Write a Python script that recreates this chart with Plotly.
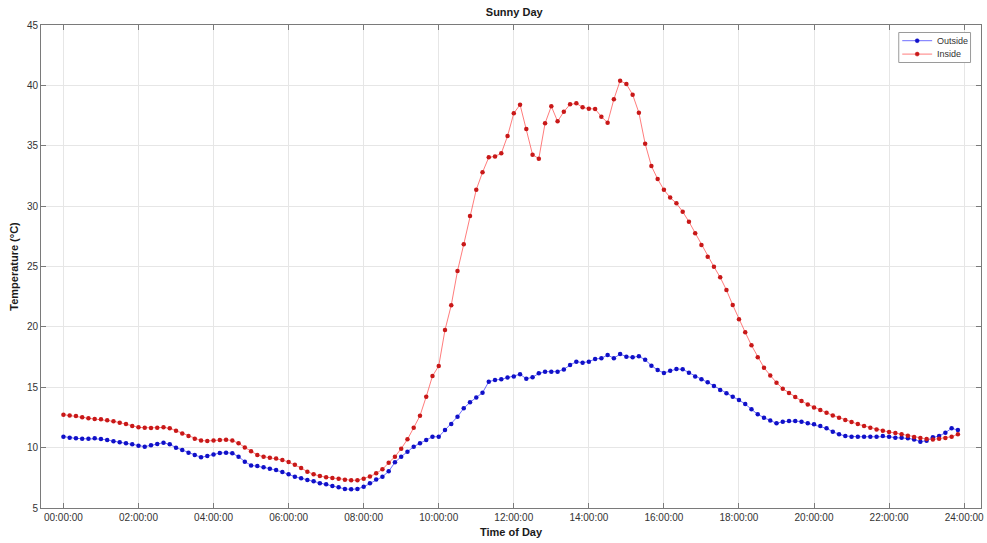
import numpy as np
import plotly.graph_objects as go

# Temperatures logged every 10 minutes from 00:00 to 23:50 (144 samples)
outside_temp = [
    10.91, 10.82, 10.77, 10.74, 10.74, 10.77,
    10.71, 10.63, 10.52, 10.44, 10.36, 10.27,
    10.16, 10.08, 10.19, 10.30, 10.41, 10.27,
    10.00, 9.80, 9.58, 9.39, 9.20, 9.31,
    9.44, 9.55, 9.58, 9.53, 9.25, 8.84,
    8.53, 8.48, 8.37, 8.26, 8.15, 7.98,
    7.79, 7.59, 7.46, 7.32, 7.21, 7.04,
    6.96, 6.82, 6.71, 6.58, 6.55, 6.58,
    6.75, 7.04, 7.37, 7.59, 8.04, 8.78,
    9.25, 9.66, 10.08, 10.36, 10.63, 10.90,
    10.90, 11.46, 11.96, 12.56, 13.26, 13.75,
    14.15, 14.55, 15.46, 15.60, 15.66, 15.80,
    15.88, 16.07, 15.71, 15.82, 16.15, 16.29,
    16.29, 16.29, 16.48, 16.84, 17.12, 17.03,
    17.12, 17.34, 17.40, 17.67, 17.40, 17.75,
    17.53, 17.48, 17.56, 17.28, 16.79, 16.43,
    16.18, 16.36, 16.51, 16.49, 16.21, 15.88,
    15.66, 15.41, 15.10, 14.77, 14.50, 14.22,
    13.94, 13.61, 13.17, 12.76, 12.48, 12.25,
    12.01, 12.15, 12.20, 12.20, 12.15, 12.01,
    11.93, 11.79, 11.60, 11.32, 11.10, 10.96,
    10.90, 10.90, 10.90, 10.90, 10.90, 10.96,
    10.90, 10.82, 10.82, 10.77, 10.68, 10.49,
    10.57, 10.85, 10.96, 11.24, 11.60, 11.46,
]

inside_temp = [
    12.73, 12.67, 12.62, 12.51, 12.43, 12.37,
    12.34, 12.26, 12.18, 12.07, 11.96, 11.79,
    11.68, 11.65, 11.62, 11.65, 11.68, 11.60,
    11.40, 11.18, 10.96, 10.74, 10.58, 10.55,
    10.58, 10.63, 10.66, 10.58, 10.36, 10.02,
    9.69, 9.39, 9.25, 9.17, 9.09, 8.97,
    8.81, 8.59, 8.31, 8.01, 7.79, 7.65,
    7.54, 7.48, 7.43, 7.34, 7.30, 7.30,
    7.42, 7.60, 7.87, 8.20, 8.75, 9.25,
    9.91, 10.69, 11.65, 12.64, 14.22, 15.93,
    16.76, 19.74, 21.79, 24.63, 26.84, 29.18,
    31.36, 32.80, 34.04, 34.12, 34.37, 35.80,
    37.69, 38.40, 36.39, 34.26, 33.93, 36.86,
    38.27, 37.02, 37.82, 38.43, 38.51, 38.18,
    38.07, 38.04, 37.41, 36.91, 38.85, 40.39,
    40.11, 39.23, 37.74, 35.17, 33.32, 32.24,
    31.35, 30.71, 30.23, 29.54, 28.71, 27.75,
    26.78, 25.81, 24.98, 24.10, 23.05, 21.81,
    20.63, 19.55, 18.47, 17.48, 16.62, 15.98,
    15.38, 14.88, 14.52, 14.19, 13.86, 13.58,
    13.33, 13.11, 12.89, 12.67, 12.48, 12.28,
    12.12, 11.95, 11.79, 11.65, 11.51, 11.40,
    11.29, 11.21, 11.10, 10.99, 10.88, 10.79,
    10.71, 10.68, 10.74, 10.79, 10.90, 11.10,
]

series_names = ["Outside", "Inside"]
line_colors = ["#4a4aff", "#ff5a5a"]
marker_colors = ["#1010c8", "#c81818"]

# Time of day in hours for each 10-minute sample
sample_minutes = np.arange(len(outside_temp)) * 10
time_hours = sample_minutes / 60.0

tick_hours = [0, 2, 4, 6, 8, 10, 12, 14, 16, 18, 20, 22, 24]
tick_labels = ["00:00:00", "02:00:00", "04:00:00", "06:00:00", "08:00:00",
               "10:00:00", "12:00:00", "14:00:00", "16:00:00", "18:00:00",
               "20:00:00", "22:00:00", "24:00:00"]
y_ticks = [5, 10, 15, 20, 25, 30, 35, 40, 45]

FONT = "Liberation Sans, Arial, sans-serif"
AXIS_COLOR = "#7a7a7a"
TICK_TEXT = "#333333"
GRID_COLOR = "#e6e6e6"

W, H = 987, 543
M_L, M_R, M_T, M_B = 41, 3, 25, 35
PLOT_W = W - M_L - M_R
PLOT_H = H - M_T - M_B


def px_to_paper(px, py):
    """Convert a pixel position on the canvas to paper coordinates."""
    return (px - M_L) / PLOT_W, 1 - (py - M_T) / PLOT_H


fig = go.Figure()
for name, values, lc, mc in zip(series_names, [outside_temp, inside_temp],
                                line_colors, marker_colors):
    fig.add_trace(go.Scatter(
        x=time_hours, y=values, name=name, mode="lines+markers",
        line=dict(color=lc, width=0.8),
        marker=dict(color=mc, size=4.5),
        showlegend=False,
    ))

# Compact boxed legend in the upper-right corner
shapes = []
annotations = []
bx0, by0 = px_to_paper(901.5, 32.5)
bx1, by1 = px_to_paper(973.5, 62.5)
shapes.append(dict(type="rect", xref="paper", yref="paper", x0=bx0, x1=bx1,
                   y0=by1, y1=by0, line=dict(color="#9a9a9a", width=1),
                   fillcolor="white", layer="above"))
for i, (name, lc, mc) in enumerate(zip(series_names, line_colors, marker_colors)):
    row_y = 40.7 + i * 13.4
    lx0, ly = px_to_paper(905, row_y)
    lx1, _ = px_to_paper(935, row_y)
    shapes.append(dict(type="line", xref="paper", yref="paper", x0=lx0, x1=lx1,
                       y0=ly, y1=ly, line=dict(color=lc, width=0.8), layer="above"))
    cx0, cy0 = px_to_paper(918, row_y - 2)
    cx1, cy1 = px_to_paper(922, row_y + 2)
    shapes.append(dict(type="circle", xref="paper", yref="paper", x0=cx0, x1=cx1,
                       y0=cy1, y1=cy0, line=dict(color=mc, width=0.5),
                       fillcolor=mc, layer="above"))
    tx, ty = px_to_paper(937.5, row_y)
    annotations.append(dict(text=name, xref="paper", yref="paper", x=tx, y=ty,
                            xanchor="left", yanchor="middle", showarrow=False,
                            font=dict(family=FONT, size=9, color="#333333")))

fig.update_layout(
    width=W, height=H,
    margin=dict(l=M_L, r=M_R, t=M_T, b=M_B),
    paper_bgcolor="white", plot_bgcolor="white",
    font=dict(family=FONT, size=10, color=TICK_TEXT),
    title=dict(text="Sunny Day", x=0.521, xanchor="center", y=0.978, yanchor="middle",
               font=dict(family=FONT, size=11, weight="bold", color="#1a1a1a")),
    shapes=shapes,
    annotations=annotations,
    showlegend=False,
)

fig.update_xaxes(
    range=[(M_L - 63.5) / 37.65, (W - M_R - 63.5) / 37.65],
    tickmode="array", tickvals=tick_hours, ticktext=tick_labels,
    ticklabeloverflow="allow",
    showgrid=True, gridcolor=GRID_COLOR, gridwidth=1,
    zeroline=False, showline=True, linecolor=AXIS_COLOR, linewidth=1,
    mirror="allticks", ticks="inside", ticklen=5, tickcolor=AXIS_COLOR,
    tickfont=dict(family=FONT, size=10, color=TICK_TEXT),
    title=dict(text="Time of Day", standoff=6,
               font=dict(family=FONT, size=11, weight="bold", color="#1a1a1a")),
)
fig.update_yaxes(
    range=[5, 45],
    tickmode="array", tickvals=y_ticks,
    showgrid=True, gridcolor=GRID_COLOR, gridwidth=1,
    zeroline=False, showline=True, linecolor=AXIS_COLOR, linewidth=1,
    mirror="allticks", ticks="inside", ticklen=5, tickcolor=AXIS_COLOR,
    tickfont=dict(family=FONT, size=10, color=TICK_TEXT),
    title=dict(text="Temperature (°C)", standoff=6,
               font=dict(family=FONT, size=11, weight="bold", color="#1a1a1a")),
)

fig.write_html("out.html")
